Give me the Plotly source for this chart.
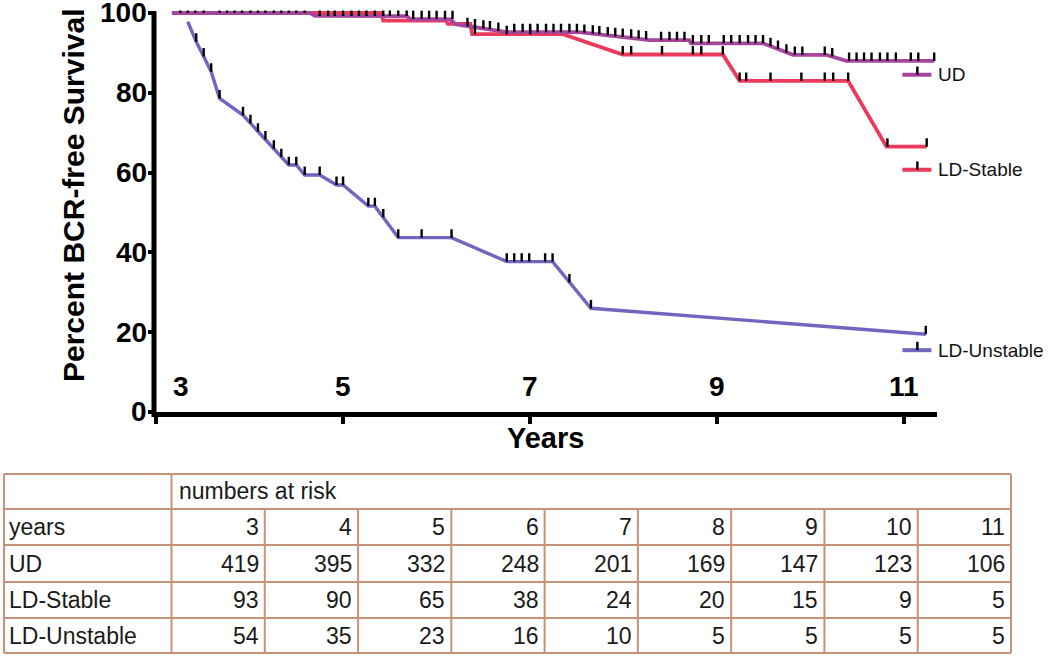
import numpy as np
import plotly.graph_objects as go

W, H = 1050, 659

# ---------------- data ----------------
series_names = ["UD", "LD-Stable", "LD-Unstable"]

# survival curve vertices (years, percent)
ud_t = [3.17, 4.65, 4.70, 5.68, 5.72, 6.15, 6.20, 6.75, 7.52, 8.25, 8.28, 8.70, 8.72, 9.49, 9.81, 10.17, 10.38, 11.32]
ud_s = [100, 100, 99.3, 99.2, 98.5, 98.4, 97.2, 95.2, 95.2, 93.4, 93.2, 93.2, 92.4, 92.4, 89.5, 89.5, 88.0, 88.0]

ls_t = [3.17, 5.41, 5.43, 6.10, 6.12, 6.36, 6.38, 7.35, 7.99, 9.06, 9.24, 10.40, 10.81, 11.24]
ls_s = [100, 100, 98.1, 98.1, 97.3, 97.3, 94.7, 94.7, 89.6, 89.6, 83.0, 83.0, 66.5, 66.5]

lu_t = [3.34, 3.43, 3.51, 3.59, 3.68, 3.93, 4.42, 4.50, 4.59, 4.75, 4.93, 5.00, 5.27, 5.34, 5.59, 6.16, 6.75, 7.24, 7.65, 11.23]
lu_s = [97.8, 92.8, 89.1, 85.3, 78.6, 74.4, 61.9, 61.9, 59.4, 59.4, 56.9, 56.9, 51.6, 51.6, 43.7, 43.7, 37.7, 37.7, 26.0, 19.5]

# censored observations (years, percent)
ud_ct = [3.26, 3.34, 3.42, 3.51, 3.68, 3.76, 3.84, 3.92, 4.01, 4.09, 4.17, 4.26, 4.34, 4.42, 4.50, 4.59,
         4.75, 4.84, 4.91, 5.00, 5.09, 5.17, 5.25, 5.34, 5.43, 5.50, 5.59, 5.68,
         5.75, 5.84, 5.92, 6.00, 6.09, 6.17,
         6.33, 6.41, 6.50, 6.57, 6.66,
         6.83, 6.92, 7.00, 7.08, 7.17, 7.25, 7.33, 7.42, 7.50,
         7.58, 7.67, 7.74, 7.83, 7.91, 7.99, 8.08, 8.16, 8.24,
         8.40, 8.49, 8.57, 8.65,
         8.74, 8.83, 8.91, 9.07, 9.15, 9.24, 9.33, 9.41, 9.49,
         9.57, 9.65, 9.74,
         9.83, 9.91, 10.15,
         10.23,
         10.41, 10.49, 10.57, 10.65, 10.74, 10.82, 10.91, 11.07, 11.15, 11.32]
ud_cs = [100] * 16 + [99.25] * 12 + [98.5] * 6 + \
        [96.7, 96.4, 96.1, 95.9, 95.5] + [95.2] * 9 + \
        [95.05, 94.8, 94.65, 94.4, 94.2, 94.0, 93.8, 93.6, 93.4] + [93.2] * 4 + \
        [92.4] * 9 + [91.7, 91.0, 90.1] + [89.5] * 3 + [89.1] + [88.0] * 11

ls_ct = [6.41, 6.75, 7.00, 7.99, 8.08, 8.41, 8.74, 8.83, 9.06,
         9.24, 9.31, 9.57, 9.90, 10.15, 10.24, 10.40, 10.82, 11.24]
ls_cs = [94.7, 94.7, 94.7, 89.6, 89.6, 89.6, 89.6, 89.6, 89.6,
         83.0, 83.0, 83.0, 83.0, 83.0, 83.0, 83.0, 66.5, 66.5]

lu_ct = [3.43, 3.51, 3.59, 3.68, 3.93, 4.01, 4.09, 4.17, 4.26, 4.34, 4.42, 4.50, 4.59, 4.75,
         4.93, 5.00, 5.27, 5.34, 5.43, 5.59, 5.84, 6.16, 6.75, 6.83, 6.91, 6.99, 7.16, 7.24,
         7.42, 7.65, 11.23]
lu_cs = [92.8, 89.1, 85.3, 78.6, 74.4, 72.4, 70.3, 68.3, 66.0, 63.9, 61.9, 61.9, 59.4, 59.4,
         56.9, 56.9, 51.6, 51.6, 48.8, 43.7, 43.7, 43.7, 37.7, 37.7, 37.7, 37.7, 37.7, 37.7,
         32.5, 26.0, 19.5]

# axis ticks
x_tick_vals = [3, 5, 7, 9, 11]
x_tick_text = ["3", "5", "7", "9", "11"]
y_tick_vals = [0, 20, 40, 60, 80, 100]

# numbers at risk table
risk_years = [3, 4, 5, 6, 7, 8, 9, 10, 11]
risk_ud = [419, 395, 332, 248, 201, 169, 147, 123, 106]
risk_ld_stable = [93, 90, 65, 38, 24, 20, 15, 9, 5]
risk_ld_unstable = [54, 35, 23, 16, 10, 5, 5, 5, 5]

# ---------------- styling ----------------
C_UD = "#a8459f"
C_LS = "#ec3a5e"
C_LU = "#6f66bf"
FONT = "Liberation Sans, Arial, sans-serif"

PX_L, PX_R = 156, 937      # plot area, pixels
PX_Y0 = 412                # y=0 pixel row
PX_PER_UNIT = 3.99
Y_TOP = 100.6
PX_YT = PX_Y0 - Y_TOP * PX_PER_UNIT
PX_Y100 = PX_Y0 - 100 * PX_PER_UNIT


def px(x):
    return x / W


def py(y):
    return 1 - y / H


fig = go.Figure()

curves = [
    ("LD-Stable", ls_t, ls_s, C_LS, 3.8),
    ("UD", ud_t, ud_s, C_UD, 3.8),
    ("LD-Unstable", lu_t, lu_s, C_LU, 3.4),
]
for name, t, s, col, lw in curves:
    fig.add_trace(go.Scatter(x=t, y=s, mode="lines", name=name,
                             line=dict(color=col, width=lw), showlegend=False,
                             hoverinfo="skip", cliponaxis=False))

censors = [(ls_ct, ls_cs), (ud_ct, ud_cs), (lu_ct, lu_cs)]
for ct, cs in censors:
    fig.add_trace(go.Scatter(
        x=ct, y=cs, mode="markers",
        marker=dict(size=1, color="rgba(0,0,0,0)"),
        error_y=dict(type="constant", value=2.1, valueminus=0, symmetric=False,
                     thickness=2.4, width=0, color="black"),
        showlegend=False, hoverinfo="skip", cliponaxis=False))

# custom legend samples next to curve ends
legend_items = [("UD", C_UD, 84.5), ("LD-Stable", C_LS, 60.7), ("LD-Unstable", C_LU, 15.5)]
for name, col, yv in legend_items:
    fig.add_trace(go.Scatter(x=[10.98, 11.29], y=[yv, yv], mode="lines",
                             line=dict(color=col, width=4), showlegend=False,
                             hoverinfo="skip", cliponaxis=False))
    fig.add_trace(go.Scatter(x=[11.14], y=[yv], mode="markers",
                             marker=dict(size=1, color="rgba(0,0,0,0)"),
                             error_y=dict(type="constant", value=2.1, valueminus=0,
                                          symmetric=False, thickness=2.4, width=0,
                                          color="black"),
                             showlegend=False, hoverinfo="skip", cliponaxis=False))

annotations = []
for name, col, yv in legend_items:
    annotations.append(dict(x=11.335, y=yv, xref="x", yref="y", text=name, showarrow=False,
                            xanchor="left", yanchor="middle",
                            font=dict(family=FONT, size=19, color="#111")))

# x tick labels sit above the axis line
for v, txt in zip(x_tick_vals, x_tick_text):
    xv = v + 0.27 if v == 3 else v
    annotations.append(dict(x=xv, y=6.3, xref="x", yref="y", text=txt, showarrow=False,
                            xanchor="center", yanchor="middle",
                            font=dict(family=FONT, size=28, color="black", weight="bold")))

# y tick labels
for v in y_tick_vals:
    annotations.append(dict(x=px(149), y=v, xref="paper", yref="y", text=str(v),
                            showarrow=False, xanchor="right", yanchor="middle",
                            font=dict(family=FONT, size=28, color="black", weight="bold")))

# axis titles
annotations.append(dict(x=px(73), y=py(196), xref="paper", yref="paper",
                        xanchor="center", yanchor="middle",
                        text="Percent BCR-free Survival", textangle=-90, showarrow=False,
                        font=dict(family=FONT, size=30, color="black", weight="bold")))
annotations.append(dict(x=px(545), y=py(438), xref="paper", yref="paper", text="Years",
                        xanchor="center", yanchor="middle", showarrow=False,
                        font=dict(family=FONT, size=29, color="black", weight="bold")))

shapes = []
# y axis line as a filled bar (stops at the 100 tick)
shapes.append(dict(type="rect", xref="paper", yref="paper", layer="above",
                   x0=px(PX_L - 4.5), x1=px(PX_L + 0.5),
                   y0=py(PX_Y0 + 5), y1=py(PX_Y100 - 2),
                   fillcolor="black", line=dict(width=0)))

# ---------------- numbers-at-risk table ----------------
T_COLOR = "#c8917a"
row_edges = [474, 509, 545, 582, 618, 653]
col_edges = [4] + list(np.linspace(171.5, 1011, len(risk_years) + 1))
tx0, tx1 = col_edges[0], col_edges[-1]

for r in row_edges:
    shapes.append(dict(type="line", xref="paper", yref="paper", x0=px(tx0), x1=px(tx1),
                       y0=py(r), y1=py(r), line=dict(color=T_COLOR, width=2)))
for i, c in enumerate(col_edges):
    top = row_edges[0] if i in (0, 1, len(col_edges) - 1) else row_edges[1]
    shapes.append(dict(type="line", xref="paper", yref="paper", x0=px(c), x1=px(c),
                       y0=py(top), y1=py(row_edges[-1]), line=dict(color=T_COLOR, width=2)))

TFONT = dict(family=FONT, size=23, color="#1a1a1a")


def row_mid(i):
    return py((row_edges[i] + row_edges[i + 1]) / 2)


annotations.append(dict(x=px(col_edges[1] + 5), y=row_mid(0), xref="paper", yref="paper",
                        text="numbers at risk", showarrow=False, xanchor="left",
                        yanchor="middle", font=TFONT))
table_rows = [("years", risk_years), ("UD", risk_ud), ("LD-Stable", risk_ld_stable),
              ("LD-Unstable", risk_ld_unstable)]
for ri, (label, vals) in enumerate(table_rows, start=1):
    annotations.append(dict(x=px(col_edges[0] + 3), y=row_mid(ri), xref="paper", yref="paper",
                            text=label, showarrow=False, xanchor="left", yanchor="middle",
                            font=TFONT))
    for ci, v in enumerate(vals):
        annotations.append(dict(x=px(col_edges[ci + 2] - 4), y=row_mid(ri), xref="paper",
                                yref="paper", text=str(v), showarrow=False, xanchor="right",
                                yanchor="middle", font=TFONT))

fig.update_layout(
    width=W, height=H, autosize=False, template="none",
    margin=dict(l=0, r=0, t=0, b=0),
    paper_bgcolor="white", plot_bgcolor="white",
    xaxis=dict(domain=[px(PX_L), px(PX_R)], range=[3, 11.35], showgrid=False, zeroline=False,
               showline=True, linewidth=5, linecolor="black",
               tickvals=x_tick_vals, showticklabels=False, ticks="outside", ticklen=7,
               tickwidth=4, tickcolor="black", automargin=False),
    yaxis=dict(domain=[py(PX_Y0), py(PX_YT)], range=[0, Y_TOP], showgrid=False, zeroline=False,
               showline=False, showticklabels=False,
               tickvals=y_tick_vals, ticks="outside", ticklen=7, tickwidth=4,
               tickcolor="black", automargin=False),
    shapes=shapes, annotations=annotations, showlegend=False,
)

fig.write_html("out.html", config={"displayModeBar": False},
               post_script="document.body.style.margin='0';document.body.style.padding='0';")
